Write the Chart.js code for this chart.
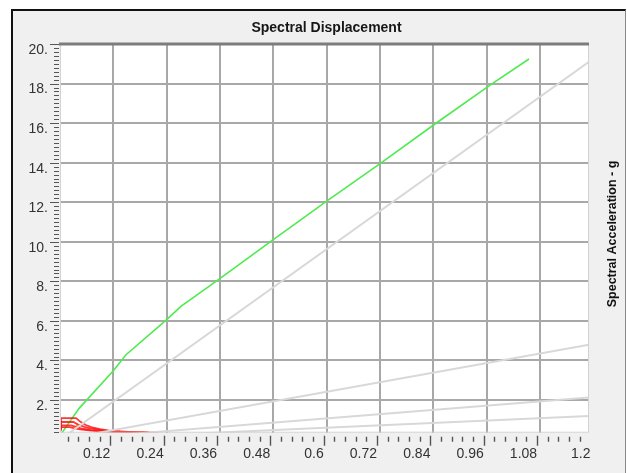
<!DOCTYPE html>
<html>
<head>
<meta charset="utf-8">
<script src="https://cdn.jsdelivr.net/npm/chart.js@4.4.1/dist/chart.umd.min.js"></script>
<style>
html,body{margin:0;padding:0;background:#ffffff;width:627px;height:473px;overflow:hidden;position:relative;}
#frame{position:absolute;left:11px;top:9px;width:612px;height:470px;background:#f0f0f0;border-left:2px solid #111;border-top:2px solid #111;border-right:1px solid #8a8a8a;}
#wrap{position:absolute;left:26px;top:0;width:601px;height:473px;}
</style>
</head>
<body>
<div id="frame"></div>
<div id="wrap"><canvas id="c" width="601" height="473"></canvas></div>
<script>
// ---- axis ticks ----
const xTickValues = [0.12, 0.24, 0.36, 0.48, 0.6, 0.72, 0.84, 0.96, 1.08, 1.2];
const xTickLabels = ['0.12', '0.24', '0.36', '0.48', '0.6', '0.72', '0.84', '0.96', '1.08', '1.2'];
const yTickValues = [2, 4, 6, 8, 10, 12, 14, 16, 18, 20];
const yTickLabels = ['2.', '4.', '6.', '8.', '10.', '12.', '14.', '16.', '18.', '20.'];

// ---- capacity curve (green) ----
const capacitySd = [0, 0.043, 0.12, 0.148, 0.24, 0.272, 0.358, 0.479, 0.6, 0.72, 0.845, 0.969, 1.055];
const capacitySa = [0.2, 1.58, 3.48, 4.28, 6.07, 6.74, 8.11, 10.1, 12.06, 13.95, 15.98, 17.95, 19.24];

// ---- constant period lines (grey) ----
const periodSd = [0, 1.19];
const periodT05Sa = [0, 19.1];
const periodT10Sa = [0, 4.8];
const periodT15Sa = [0, 2.13];
const periodT20Sa = [0, 1.2];

// ---- demand spectra (red) ----
const demand1Sd = [0.001, 0.003, 0.036, 0.046, 0.058, 0.072, 0.09, 0.11, 0.135, 0.165, 0.2];
const demand1Sa = [0.55, 1.09, 1.09, 0.9, 0.74, 0.62, 0.53, 0.46, 0.41, 0.375, 0.355];
const demand2Sd = [0.001, 0.003, 0.03, 0.041, 0.055, 0.07, 0.09, 0.115, 0.145, 0.18, 0.22];
const demand2Sa = [0.5, 0.89, 0.89, 0.76, 0.64, 0.56, 0.49, 0.43, 0.39, 0.37, 0.355];
const demand3Sd = [0.001, 0.003, 0.025, 0.036, 0.05, 0.07, 0.095, 0.125, 0.16, 0.2];
const demand3Sa = [0.45, 0.72, 0.72, 0.64, 0.55, 0.48, 0.43, 0.39, 0.37, 0.355];
const demand4Sd = [0.001, 0.003, 0.022, 0.035, 0.05, 0.07, 0.095, 0.125, 0.16, 0.2];
const demand4Sa = [0.42, 0.63, 0.63, 0.56, 0.5, 0.45, 0.41, 0.38, 0.365, 0.352];

// ---- performance segment (orange) ----
const perfSd = [0.036, 0.045];
const perfSa = [0.71, 0.66];

const X_MIN = 0, X_MAX = 1.19, Y_MIN = 0.35, Y_MAX = 20;
const FONT = "'Liberation Sans', Arial, Helvetica, sans-serif";

function pts(xs, ys) { return xs.map((x, i) => ({ x: x, y: ys[i] })); }
function line(xs, ys, color, width) {
  return { data: pts(xs, ys), showLine: true, borderColor: color, borderWidth: width,
           pointRadius: 0, pointHoverRadius: 0, fill: false, tension: 0 };
}

const plotFrame = {
  id: 'plotFrame',
  beforeDraw(chart) {
    const { ctx, chartArea: a } = chart;
    ctx.save();
    ctx.fillStyle = '#ffffff';
    ctx.fillRect(a.left, a.top, a.right - a.left, a.bottom - a.top);
    ctx.restore();
  },
  afterDraw(chart) {
    const { ctx, chartArea: a, scales } = chart;
    const x = scales.x, y = scales.y;
    ctx.save();
    ctx.strokeStyle = '#d2d2d2'; ctx.lineWidth = 1;
    ctx.strokeRect(a.left + 0.5, a.top, a.right - a.left - 1, a.bottom - a.top - 0.5);
    ctx.strokeStyle = '#7c7c7c'; ctx.lineWidth = 3;
    ctx.beginPath(); ctx.moveTo(a.left - 1, a.top); ctx.lineTo(a.right, a.top); ctx.stroke();
    // tick marks
    ctx.strokeStyle = '#555555'; ctx.lineWidth = 1;
    ctx.beginPath();
    for (let k = 2; k <= 100; k++) {
      const v = k * 0.2;
      if (v > Y_MAX + 1e-9) break;
      const py = Math.round(y.getPixelForValue(v)) + 0.5;
      const major = k % 10 === 0;
      ctx.moveTo(a.left - (major ? 10 : 6), py); ctx.lineTo(a.left - 1, py);
    }
    ctx.stroke();
    ctx.lineWidth = 1.4;
    ctx.beginPath();
    for (let k = 1; k < 200; k++) {
      const v = k * 0.024;
      if (v > X_MAX) break;
      const px = Math.round(x.getPixelForValue(v)) - 3 + 0.5;
      const major = k % 5 === 0;
      ctx.moveTo(px, a.bottom + (major ? 3 : 4)); ctx.lineTo(px, a.bottom + (major ? 13 : 9));
    }
    ctx.stroke();
    // right-side axis title
    ctx.fillStyle = '#111111';
    ctx.font = 'bold 12.5px ' + FONT;
    ctx.textAlign = 'center'; ctx.textBaseline = 'middle';
    ctx.translate(a.right + 24, 234);
    ctx.rotate(-Math.PI / 2);
    ctx.fillText('Spectral Acceleration - g', 0, 0);
    ctx.restore();
  }
};

new Chart(document.getElementById('c'), {
  type: 'scatter',
  data: {
    datasets: [
      line(periodSd, periodT05Sa, '#d8d8d8', 2),
      line(periodSd, periodT10Sa, '#d8d8d8', 2),
      line(periodSd, periodT15Sa, '#d8d8d8', 2),
      line(periodSd, periodT20Sa, '#d8d8d8', 2),
      line(demand1Sd, demand1Sa, 'rgba(255,20,20,0.85)', 1.8),
      line(demand2Sd, demand2Sa, 'rgba(255,20,20,0.85)', 1.8),
      line(demand3Sd, demand3Sa, 'rgba(255,20,20,0.85)', 1.8),
      line(demand4Sd, demand4Sa, 'rgba(255,20,20,0.85)', 1.8),
      line(perfSd, perfSa, '#ffa020', 2),
      line(capacitySd, capacitySa, '#4fea4f', 1.6)
    ]
  },
  options: {
    responsive: false,
    devicePixelRatio: 1,
    animation: false,
    events: [],
    layout: { padding: 0 },
    plugins: {
      legend: { display: false },
      tooltip: { enabled: false },
      title: {
        display: true,
        text: 'Spectral Displacement',
        color: '#161616',
        font: { family: FONT, size: 14, weight: 'bold' },
        padding: { top: 19.3, bottom: 7.9 }
      }
    },
    scales: {
      x: {
        type: 'linear', position: 'bottom', min: X_MIN, max: X_MAX,
        afterBuildTicks: s => { s.ticks = xTickValues.map(v => ({ value: v })); },
        afterFit: s => { s.height = 40.3; },
        ticks: {
          callback: (v, i) => xTickLabels[i],
          align: 'end', labelOffset: -3, padding: 13, autoSkip: false, maxRotation: 0, minRotation: 0,
          color: '#333333', font: { family: FONT, size: 14 }
        },
        grid: {
          drawTicks: false, lineWidth: 2,
          color: c => (c.tick && c.tick.value > X_MAX ? 'rgba(0,0,0,0)' : '#a8a8a8')
        },
        border: { display: false }
      },
      y: {
        type: 'linear', position: 'left', min: Y_MIN, max: Y_MAX,
        afterBuildTicks: s => { s.ticks = yTickValues.map(v => ({ value: v })); },
        afterFit: s => { s.width = 34; },
        ticks: {
          callback: (v, i) => yTickLabels[i],
          labelOffset: 6, padding: 12, autoSkip: false,
          color: '#333333', font: { family: FONT, size: 14 }
        },
        grid: { drawTicks: false, lineWidth: 2, color: '#a8a8a8' },
        border: { display: false }
      },
      y2: {
        type: 'linear', position: 'right', display: true,
        afterFit: s => { s.width = 38; },
        ticks: { display: false },
        grid: { display: false, drawTicks: false },
        border: { display: false }
      }
    }
  },
  plugins: [plotFrame]
});
</script>
</body>
</html>
